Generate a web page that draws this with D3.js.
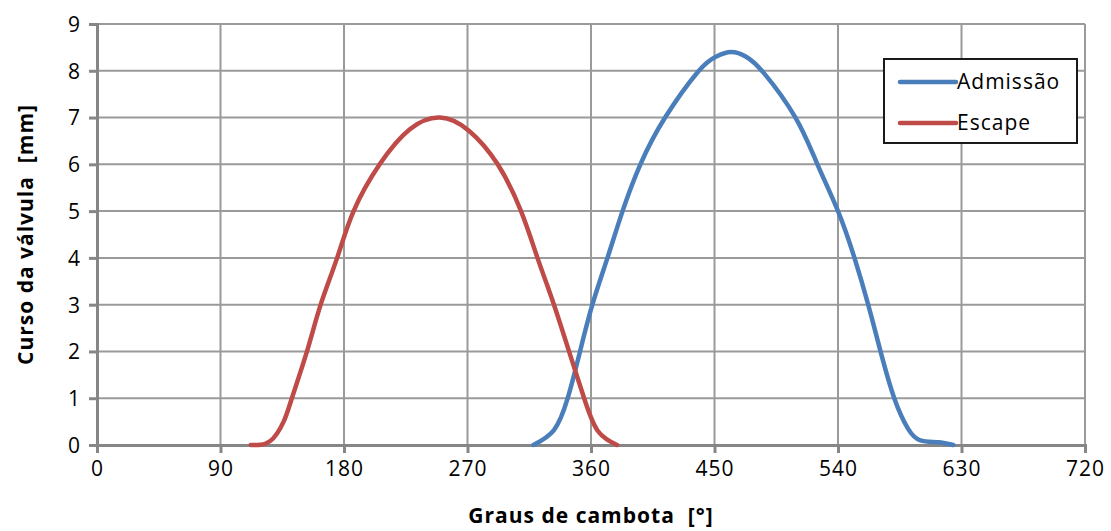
<!DOCTYPE html>
<html>
<head>
<meta charset="utf-8">
<script src="https://cdn.jsdelivr.net/npm/d3@7"></script>
<style>
  body { margin: 0; background: #fff; }
  text { font-family: "Open Sans", "Noto Sans", sans-serif; fill: #000; white-space: pre; }
</style>
</head>
<body>
<svg id="chart" width="1111" height="531"></svg>
<script>
// Crank angle [deg] and valve lift [mm]
const xTicks = [0, 90, 180, 270, 360, 450, 540, 630, 720];
const yTicks = [0, 1, 2, 3, 4, 5, 6, 7, 8, 9];

const escapeAngle = [112, 126, 136, 142, 153, 163, 175, 187, 206, 228, 250, 271, 292, 309, 321, 333, 344, 355, 365, 379];
const escapeLift  = [0, 0.08, 0.5, 1, 2, 3, 4, 5, 6, 6.75, 7, 6.72, 6, 5, 4, 3, 2, 1, 0.3, 0];

const intakeAngle = [318, 333, 343, 352, 361, 372, 383, 396, 414, 438, 451, 462, 473, 486, 509, 525, 540, 552, 562, 571, 581, 591, 600, 613, 624];
const intakeLift  = [0, 0.32, 1, 2, 3, 4, 5, 6, 7, 7.98, 8.3, 8.4, 8.3, 7.95, 7, 6, 5, 4, 3, 2, 1, 0.35, 0.1, 0.06, 0];

const seriesNames = ["Admissão", "Escape"];
const seriesColors = ["#4A7EBB", "#BE4B48"];

const svg = d3.select("#chart");
const plot = { left: 97, right: 1085, top: 24, bottom: 445 };

const x = d3.scaleLinear().domain([0, 720]).range([plot.left, plot.right]);
const y = d3.scaleLinear().domain([0, 9]).range([plot.bottom, plot.top]);

// Gridlines
svg.append("g")
  .selectAll("line")
  .data(yTicks.filter(d => d > 0))
  .join("line")
    .attr("x1", plot.left).attr("x2", plot.right)
    .attr("y1", d => y(d)).attr("y2", d => y(d))
    .attr("stroke", "#9a9a9a").attr("stroke-width", 2);

svg.append("g")
  .selectAll("line")
  .data(xTicks.filter(d => d > 0))
  .join("line")
    .attr("x1", d => x(d)).attr("x2", d => x(d))
    .attr("y1", plot.top).attr("y2", plot.bottom)
    .attr("stroke", "#9a9a9a").attr("stroke-width", 2);

// Axes
const xAxis = svg.append("g")
  .attr("transform", `translate(0,${plot.bottom})`)
  .call(d3.axisBottom(x).tickValues(xTicks).tickSize(8).tickPadding(8));
const yAxis = svg.append("g")
  .attr("transform", `translate(${plot.left},0)`)
  .call(d3.axisLeft(y).tickValues(yTicks).tickSize(8).tickPadding(8));

[xAxis, yAxis].forEach(a => {
  a.select(".domain").attr("stroke", "#868686").attr("stroke-width", 3);
  a.selectAll(".tick line").attr("stroke", "#868686").attr("stroke-width", 3);
  a.selectAll(".tick text")
    .style("font-family", '"Open Sans", "Noto Sans", sans-serif')
    .style("font-size", "21px")
    .style("letter-spacing", "1px")
    .attr("fill", "#000");
});
yAxis.selectAll(".tick text").attr("dy", "0.35em");

// Lines
const line = d3.line()
  .x(d => x(d[0]))
  .y(d => y(d[1]))
  .curve(d3.curveNatural);

const series = [
  d3.zip(intakeAngle, intakeLift),
  d3.zip(escapeAngle, escapeLift)
];

svg.append("g")
  .selectAll("path")
  .data(series)
  .join("path")
    .attr("d", line)
    .attr("fill", "none")
    .attr("stroke", (d, i) => seriesColors[i])
    .attr("stroke-width", 4.5)
    .attr("stroke-linecap", "round")
    .attr("stroke-linejoin", "round");

// Axis titles
svg.append("text")
  .attr("x", (plot.left + plot.right) / 2)
  .attr("y", 523)
  .attr("text-anchor", "middle")
  .style("font-size", "21px")
  .style("font-weight", "bold")
  .style("letter-spacing", "1px")
  .text("Graus de cambota  [°]");

svg.append("text")
  .attr("transform", `translate(33,${(plot.top + plot.bottom) / 2}) rotate(-90)`)
  .attr("text-anchor", "middle")
  .style("font-size", "21px")
  .style("font-weight", "bold")
  .style("letter-spacing", "1px")
  .text("Curso da válvula  [mm]");

// Legend
const legend = svg.append("g").attr("transform", "translate(884,59)");
legend.append("rect")
  .attr("width", 193).attr("height", 84)
  .attr("fill", "#fff")
  .attr("stroke", "#1a1a1a").attr("stroke-width", 2);

const item = legend.selectAll("g")
  .data(seriesNames)
  .join("g")
    .attr("transform", (d, i) => `translate(0,${23 + i * 41})`);
item.append("line")
  .attr("x1", 16).attr("x2", 72)
  .attr("stroke", (d, i) => seriesColors[i])
  .attr("stroke-width", 4.5)
  .attr("stroke-linecap", "round");
item.append("text")
  .attr("x", 73)
  .attr("dy", "0.35em")
  .style("font-size", "21px")
  .style("letter-spacing", "1px")
  .text(d => d);
</script>
</body>
</html>
